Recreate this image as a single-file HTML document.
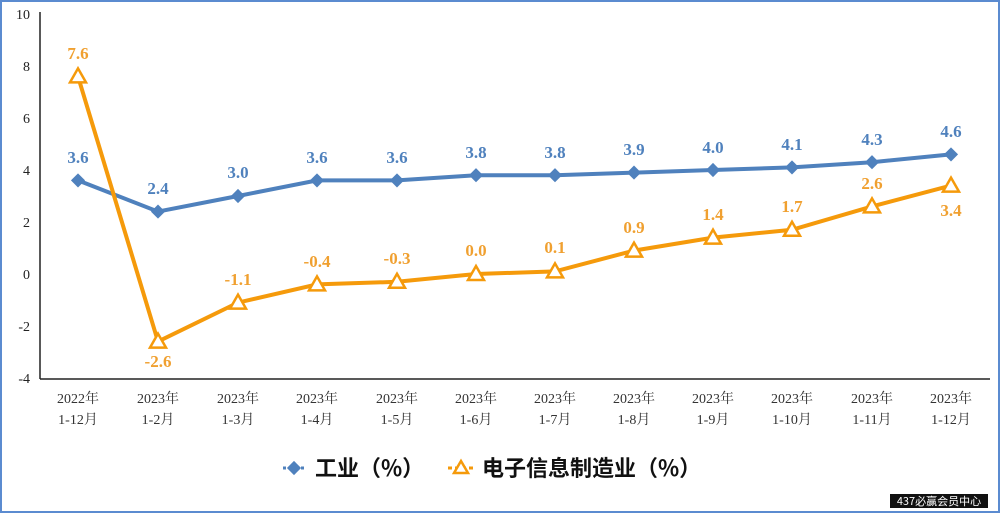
<!DOCTYPE html>
<html><head><meta charset="utf-8"><style>
body{margin:0;background:#fff}
</style></head><body>
<svg width="1000" height="513" xmlns="http://www.w3.org/2000/svg" style="display:block">
<defs>
<g id="d"><rect x="-5" y="-5" width="10" height="10" transform="rotate(45)"/></g>
<g id="t"><polygon points="0,-8 8,6 -8,6"/></g>
</defs>
<rect x="1" y="1" width="998" height="511" fill="#fff" stroke="#5b8bd0" stroke-width="2"/>
<g font-family="Liberation Serif, serif" font-size="14" fill="#222" text-anchor="end">
<text x="30" y="19">10</text><text x="30" y="71">8</text><text x="30" y="123">6</text>
<text x="30" y="175">4</text><text x="30" y="227">2</text><text x="30" y="279">0</text>
<text x="30" y="331">-2</text><text x="30" y="383">-4</text>
</g>
<line x1="40" y1="12" x2="40" y2="379" stroke="#222" stroke-width="1.5"/>
<line x1="40" y1="379" x2="990" y2="379" stroke="#222" stroke-width="1.5"/>
<g font-family="Liberation Serif, 'Noto Serif CJK SC', serif" font-size="14" fill="#333" text-anchor="middle">
<text x="78" y="403">2022年</text><text x="78" y="424">1-12月</text>
<text x="158" y="403">2023年</text><text x="158" y="424">1-2月</text>
<text x="238" y="403">2023年</text><text x="238" y="424">1-3月</text>
<text x="317" y="403">2023年</text><text x="317" y="424">1-4月</text>
<text x="397" y="403">2023年</text><text x="397" y="424">1-5月</text>
<text x="476" y="403">2023年</text><text x="476" y="424">1-6月</text>
<text x="555" y="403">2023年</text><text x="555" y="424">1-7月</text>
<text x="634" y="403">2023年</text><text x="634" y="424">1-8月</text>
<text x="713" y="403">2023年</text><text x="713" y="424">1-9月</text>
<text x="792" y="403">2023年</text><text x="792" y="424">1-10月</text>
<text x="872" y="403">2023年</text><text x="872" y="424">1-11月</text>
<text x="951" y="403">2023年</text><text x="951" y="424">1-12月</text>
</g>
<polyline fill="none" stroke="#4f81bd" stroke-width="4" points="78,180.4 158,211.6 238,196 317,180.4 397,180.4 476,175.2 555,175.2 634,172.6 713,170 792,167.4 872,162.2 951,154.4"/>
<g fill="#4f81bd">
<use href="#d" x="78" y="180.4"/><use href="#d" x="158" y="211.6"/><use href="#d" x="238" y="196"/><use href="#d" x="317" y="180.4"/><use href="#d" x="397" y="180.4"/><use href="#d" x="476" y="175.2"/><use href="#d" x="555" y="175.2"/><use href="#d" x="634" y="172.6"/><use href="#d" x="713" y="170"/><use href="#d" x="792" y="167.4"/><use href="#d" x="872" y="162.2"/><use href="#d" x="951" y="154.4"/>
</g>
<polyline fill="none" stroke="#f59a0b" stroke-width="4" points="78,76.4 158,341.6 238,302.6 317,284.4 397,281.8 476,274 555,271.4 634,250.6 713,237.6 792,229.8 872,206.4 951,185.6"/>
<g fill="#fff" stroke="#f59a0b" stroke-width="2.5">
<use href="#t" x="78" y="76.4"/><use href="#t" x="158" y="341.6"/><use href="#t" x="238" y="302.6"/><use href="#t" x="317" y="284.4"/><use href="#t" x="397" y="281.8"/><use href="#t" x="476" y="274"/><use href="#t" x="555" y="271.4"/><use href="#t" x="634" y="250.6"/><use href="#t" x="713" y="237.6"/><use href="#t" x="792" y="229.8"/><use href="#t" x="872" y="206.4"/><use href="#t" x="951" y="185.6"/>
</g>
<g font-family="Liberation Serif, serif" font-size="17" font-weight="bold" fill="#4f81bd" text-anchor="middle">
<text x="78" y="163">3.6</text><text x="158" y="194">2.4</text><text x="238" y="178">3.0</text><text x="317" y="163">3.6</text><text x="397" y="163">3.6</text><text x="476" y="158">3.8</text><text x="555" y="158">3.8</text><text x="634" y="155">3.9</text><text x="713" y="153">4.0</text><text x="792" y="150">4.1</text><text x="872" y="145">4.3</text><text x="951" y="137">4.6</text>
</g>
<g font-family="Liberation Serif, serif" font-size="17" font-weight="bold" fill="#f0a030" text-anchor="middle">
<text x="78" y="59">7.6</text><text x="158" y="367">-2.6</text><text x="238" y="285">-1.1</text><text x="317" y="267">-0.4</text><text x="397" y="264">-0.3</text><text x="476" y="256">0.0</text><text x="555" y="253">0.1</text><text x="634" y="233">0.9</text><text x="713" y="220">1.4</text><text x="792" y="212">1.7</text><text x="872" y="189">2.6</text><text x="951" y="216">3.4</text>
</g>
<line x1="283" y1="468" x2="305" y2="468" stroke="#4f81bd" stroke-width="3" stroke-dasharray="3,3"/>
<rect x="289" y="463" width="10" height="10" fill="#4f81bd" transform="rotate(45 294 468)"/>
<text x="315" y="476" font-family="'Noto Sans CJK SC', sans-serif" font-size="22" font-weight="bold" fill="#111">工业（%）</text>
<line x1="448" y1="468" x2="474" y2="468" stroke="#f59a0b" stroke-width="3" stroke-dasharray="4,3"/>
<polygon points="461,461 468,473 454,473" fill="#fff" stroke="#f59a0b" stroke-width="2.5"/>
<text x="482" y="476" font-family="'Noto Sans CJK SC', sans-serif" font-size="22" font-weight="bold" fill="#111">电子信息制造业（%）</text>
<rect x="890" y="494" width="98" height="14" fill="#111"/>
<text x="939" y="505" font-family="'Noto Sans CJK SC', sans-serif" font-size="11" fill="#fff" text-anchor="middle">437必赢会员中心</text>
</svg>
</body></html>
